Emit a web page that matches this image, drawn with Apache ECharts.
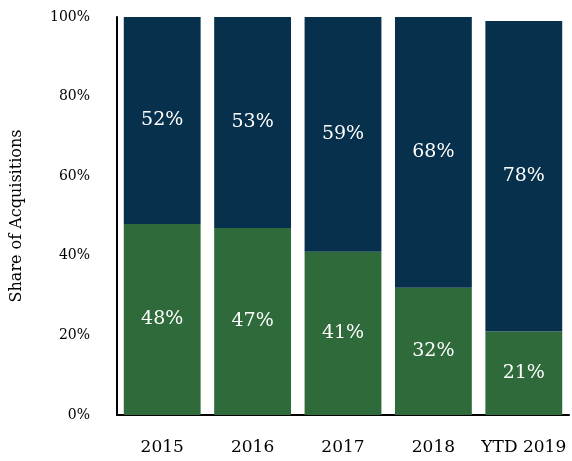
<!DOCTYPE html>
<html>
<head>
<meta charset="utf-8">
<script src="https://cdn.jsdelivr.net/npm/echarts@6/dist/echarts.min.js"></script>
<style>
  html, body { margin: 0; padding: 0; background: #fff; }
  #chart { width: 572px; height: 461px; }
</style>
</head>
<body>
<div id="chart"></div>
<script>
var years = ['2015', '2016', '2017', '2018', 'YTD 2019'];
var greenShare = [48, 47, 41, 32, 21];
var navyShare = [52, 53, 59, 68, 78];

var font = 'DejaVu Serif';

var chart = echarts.init(document.getElementById('chart'));

var option = {
    backgroundColor: '#fff',
    animation: false,
    grid: { left: 117, right: 3, top: 17, bottom: 46, outerBoundsMode: 'none', containLabel: false },
    xAxis: {
        type: 'category',
        data: years,
        axisLine: { lineStyle: { color: '#000', width: 2 } },
        axisTick: { show: false },
        axisLabel: { color: '#000', fontFamily: font, fontSize: 17, margin: 24, interval: 0 }
    },
    yAxis: {
        type: 'value',
        min: 0,
        max: 100,
        interval: 20,
        name: 'Share of Acquisitions',
        nameLocation: 'middle',
        nameGap: 92,
        nameTextStyle: { color: '#000', fontFamily: font, fontSize: 16 },
        splitLine: { show: false },
        axisLine: { show: true, lineStyle: { color: '#000', width: 2 } },
        axisTick: { show: false },
        axisLabel: {
            color: '#000', fontFamily: font, fontSize: 14, margin: 27,
            formatter: function (v) { return v + '%'; }
        }
    },
    series: [
        {
            name: 'green',
            type: 'bar',
            stack: 'share',
            data: greenShare,
            barCategoryGap: '15%',
            itemStyle: { color: '#2e6a3a' },
            label: {
                show: true, position: 'inside', color: '#fff',
                fontFamily: font, fontSize: 19,
                formatter: function (p) { return p.value + '%'; }
            }
        },
        {
            name: 'navy',
            type: 'bar',
            stack: 'share',
            data: navyShare,
            itemStyle: { color: '#06304b' },
            label: {
                show: true, position: 'inside', color: '#fff',
                fontFamily: font, fontSize: 19,
                formatter: function (p) { return p.value + '%'; }
            }
        }
    ]
};
chart.setOption(option);
</script>
</body>
</html>
